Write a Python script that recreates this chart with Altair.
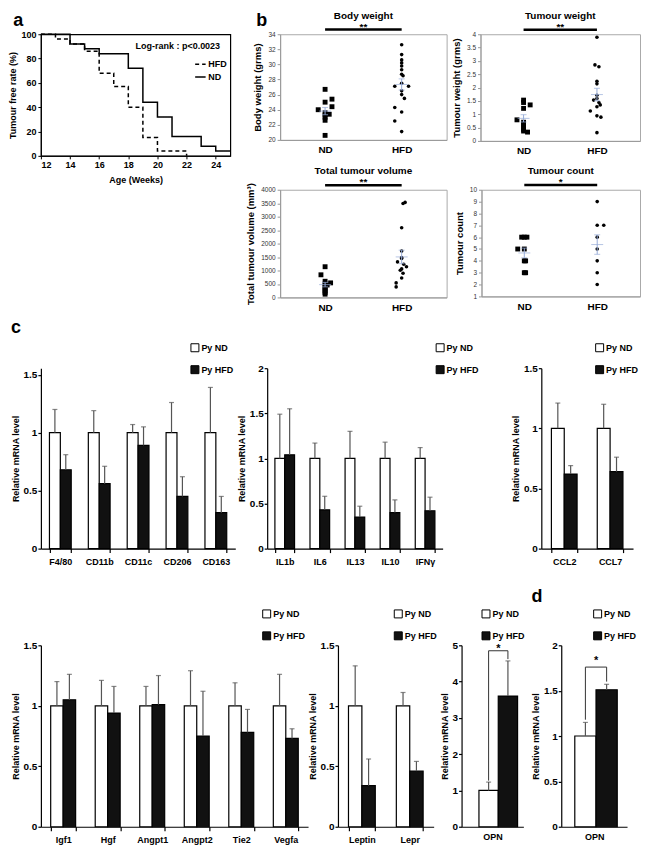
import altair as alt
import pandas as pd

FONT = "Liberation Sans"
BLUE = "#97acd8"
ERR = "#555555"
GROUPS = ["Py ND", "Py HFD"]

# ---------------- panel a : tumour-free survival ----------------
km_nd_week = [12, 14, 15, 16, 18, 19, 20, 21, 23, 24, 25]
km_nd_rate = [100, 92, 88, 84, 72, 44, 32, 16, 8, 4, 4]
km_hfd_week = [12, 13, 14, 15, 16, 17, 18, 19, 20, 22]
km_hfd_rate = [100, 96, 92, 86, 68, 57, 40, 15, 4, 0]
logrank_label = ["Log-rank : p<0.0023"]

# ---------------- panel b : dot plots (side: column the dot sits in) ----------------
bw_nd = [26.7, 25.4, 25.0, 24.4, 24.0, 23.6, 23.4, 23.3, 23.0, 22.6, 20.6]
bw_nd_side = [0, 1, 0, 1, -1, 0, 0.6, 0, 0, 0, 0]
bw_hfd = [32.6, 31.3, 30.6, 30.2, 29.8, 29.3, 28.7, 28.5, 27.5, 27.1, 27.1,
          26.5, 26.0, 25.5, 24.3, 23.7, 22.5, 21.1]
bw_hfd_side = [0, 0, 0, 0, 0, 0, 0, 0.2, 0, -1, 1, 0, 0, 0.4, -1, 0, -1, 0]

tw_nd = [1.53, 1.44, 1.35, 1.22, 0.79, 0.70, 0.61, 0.53, 0.43, 0.37, 0.33]
tw_nd_side = [0, 0, 1, 0, -1, 0, 0, 0, 0, 0, 0.6]
tw_hfd = [3.89, 2.85, 2.78, 2.24, 2.14, 1.71, 1.59, 1.53, 1.44, 1.35, 1.28,
          1.12, 0.94, 0.89, 0.31]
tw_hfd_side = [0, -0.3, 0.3, 0, 0, 0, 0, -0.5, 0.3, 0.5, 0, -1, 0, 0.6, 0]

tv_nd = [1140, 840, 600, 540, 500, 460, 420, 360, 300, 240, 180, 120]
tv_nd_side = [0, -0.6, 0, 0.8, 0, 0.3, 0, 0, 0, 0, 0, 0]
tv_hfd = [3530, 3490, 2590, 1720, 1480, 1450, 1320, 1230, 1140, 1060, 1010,
          900, 720, 540, 390]
tv_hfd_side = [0.5, 0.2, 0, 0, 0, 0, -0.6, 0.3, 0.7, 0, -0.2, 0.2, 0, -0.8, -0.8]

tc_nd = [6, 6, 6, 5, 5, 4, 4, 3, 3]
tc_nd_side = [-0.4, 0, 0.4, -1, 0, 0, 0.2, 0, 0.2]
tc_hfd = [9, 7, 7, 6, 5, 4, 3, 2]
tc_hfd_side = [0, 0, 1, 0, 0, 0, 0, 0]

# ---------------- panel c / d : relative mRNA (mean, top of error bar) ----------------
mac_genes = ["F4/80", "CD11b", "CD11c", "CD206", "CD163"]
mac_nd = [1, 1, 1, 1, 1]
mac_nd_top = [1.20, 1.19, 1.07, 1.26, 1.39]
mac_hfd = [0.68, 0.56, 0.89, 0.45, 0.31]
mac_hfd_top = [0.81, 0.71, 1.05, 0.62, 0.45]

cyt_genes = ["IL1b", "IL6", "IL13", "IL10", "IFNγ"]
cyt_nd = [1, 1, 1, 1, 1]
cyt_nd_top = [1.49, 1.17, 1.30, 1.18, 1.12]
cyt_hfd = [1.04, 0.43, 0.35, 0.40, 0.42]
cyt_hfd_top = [1.55, 0.58, 0.47, 0.54, 0.57]

chem_genes = ["CCL2", "CCL7"]
chem_nd = [1, 1]
chem_nd_top = [1.21, 1.20]
chem_hfd = [0.62, 0.64]
chem_hfd_top = [0.69, 0.76]

ang_genes = ["Igf1", "Hgf", "Angpt1", "Angpt2", "Tie2", "Vegfa"]
ang_nd = [1, 1, 1, 1, 1, 1]
ang_nd_top = [1.20, 1.21, 1.16, 1.29, 1.19, 1.26]
ang_hfd = [1.05, 0.94, 1.01, 0.75, 0.78, 0.73]
ang_hfd_top = [1.26, 1.16, 1.25, 1.12, 0.97, 0.81]

adi_genes = ["Leptin", "Lepr"]
adi_nd = [1, 1]
adi_nd_top = [1.33, 1.11]
adi_hfd = [0.34, 0.46]
adi_hfd_top = [0.56, 0.54]

opn_c = [1.0, 3.6]
opn_c_top = [1.23, 4.57]
opn_d = [1.0, 1.51]
opn_d_top = [1.15, 1.57]


def txt(**kw):
    base = dict(font=FONT, fontWeight="bold", color="black")
    base.update(kw)
    return base


# ======================= panel a =======================
def axis_a(values, title, pad):
    return alt.Axis(values=values, tickCount=len(values), title=title, grid=False,
                    domainColor="black", tickColor="black", tickSize=3, labelFont=FONT,
                    labelFontSize=9, labelFontWeight="bold", labelColor="black",
                    labelPadding=2, labelOverlap=False, titleFont=FONT, titleFontSize=9,
                    titleFontWeight="bold", titleColor="black", titlePadding=pad)


km_df = pd.DataFrame({
    "week": km_hfd_week + km_nd_week,
    "rate": km_hfd_rate + km_nd_rate,
    "diet": ["HFD"] * len(km_hfd_week) + ["ND"] * len(km_nd_week),
})
km_lines = alt.Chart(km_df).mark_line(interpolate="step-after", color="black",
                                       strokeWidth=1.5).encode(
    x=alt.X("week:Q", scale=alt.Scale(domain=[12, 25], nice=False, zero=False),
            axis=axis_a([12, 14, 16, 18, 20, 22, 24], "Age (Weeks)", 6)),
    y=alt.Y("rate:Q", scale=alt.Scale(domain=[0, 100], nice=False),
            axis=axis_a([0, 20, 40, 60, 80, 100], "Tumour free rate (%)", 3)),
    strokeDash=alt.StrokeDash(
        "diet:N", scale=alt.Scale(domain=["HFD", "ND"], range=[[4, 3], [1, 0]]),
        legend=alt.Legend(title=None, orient="none", legendX=154, legendY=24,
                          symbolType="stroke", symbolSize=110, symbolStrokeWidth=1.5,
                          symbolStrokeColor="black", labelFont=FONT, labelFontSize=9,
                          labelFontWeight="bold", labelColor="black", rowPadding=2,
                          labelOffset=2, padding=0)),
)
lr_df = pd.DataFrame({"week": [24.3], "rate": [90], "t": logrank_label})
lr_text = alt.Chart(lr_df).mark_text(align="right", baseline="middle",
                                      **txt(fontSize=9)).encode(
    x=alt.X("week:Q", title="Age (Weeks)"), y=alt.Y("rate:Q", title="Tumour free rate (%)"),
    text="t:N")
a_df = pd.DataFrame({"week": [10.1], "rate": [106.6], "t": ["a"]})
a_letter = alt.Chart(a_df).mark_text(align="left", baseline="alphabetic",
                                      **txt(fontSize=18)).encode(
    x=alt.X("week:Q", title="Age (Weeks)"), y=alt.Y("rate:Q", title="Tumour free rate (%)"),
    text="t:N")
panel_a = alt.layer(km_lines, lr_text, a_letter).properties(
    width=190, height=122,
    view=alt.ViewBackground(stroke="black", strokeWidth=1.2),
)


# ======================= panel b =======================
def dot_panel(title, ytitle, nd, nd_side, hfd, hfd_side, ydom, yvals, yfmt, sig_y, stars,
              w, h, letter=None):
    df = pd.DataFrame({"g": ["ND"] * len(nd) + ["HFD"] * len(hfd),
                       "v": nd + hfd, "s": nd_side + hfd_side})
    xsc = alt.Scale(domain=[-0.587, 1.587], nice=False, zero=False)
    ysc = alt.Scale(domain=ydom, nice=False, zero=False)
    xax = alt.Axis(values=[0, 1], tickCount=2, labelExpr="datum.value == 0 ? 'ND' : 'HFD'",
                   title=None, ticks=False, grid=False, domainColor="#999",
                   labelFont=FONT, labelFontSize=10, labelFontWeight="bold",
                   labelColor="black", labelPadding=5, labelOverlap=False)
    yax = alt.Axis(values=yvals, tickCount=len(yvals), format=yfmt, title=ytitle,
                   grid=False, domainColor="#999", tickColor="#999", tickSize=3,
                   labelFont=FONT, labelFontSize=6.5, labelColor="#333", labelPadding=2,
                   labelOverlap=False, titleFont=FONT, titleFontSize=9.5,
                   titleFontWeight="bold", titleColor="black", titlePadding=5)
    base = alt.Chart(df).transform_calculate(
        xp="(datum.g == 'ND' ? 0 : 1) + datum.s * 0.09")
    nd_pts = base.transform_filter("datum.g == 'ND'").mark_square(
        size=24, color="black", opacity=1).encode(
        x=alt.X("xp:Q", scale=xsc, axis=xax), y=alt.Y("v:Q", scale=ysc, axis=yax))
    hfd_pts = base.transform_filter("datum.g == 'HFD'").mark_circle(
        size=13, color="black", opacity=1).encode(
        x=alt.X("xp:Q", title=None), y=alt.Y("v:Q", title=ytitle))
    stats = alt.Chart(df).transform_aggregate(
        m="mean(v)", se="stderr(v)", groupby=["g"]).transform_calculate(
        xp="datum.g == 'ND' ? 0 : 1", lo="datum.m - datum.se", hi="datum.m + datum.se")
    err = stats.mark_rule(color=BLUE, strokeWidth=1).encode(
        x=alt.X("xp:Q", title=None), y=alt.Y("lo:Q", title=ytitle), y2="hi:Q")
    cap_lo = stats.mark_tick(color=BLUE, orient="horizontal", size=6, thickness=1).encode(
        x=alt.X("xp:Q", title=None), y=alt.Y("lo:Q", title=ytitle))
    cap_hi = stats.mark_tick(color=BLUE, orient="horizontal", size=6, thickness=1).encode(
        x=alt.X("xp:Q", title=None), y=alt.Y("hi:Q", title=ytitle))
    mean_t = stats.mark_tick(color=BLUE, orient="horizontal", size=12, thickness=1).encode(
        x=alt.X("xp:Q", title=None), y=alt.Y("m:Q", title=ytitle))
    sig_df = pd.DataFrame({"x0": [0], "x1": [1], "xm": [0.5], "y": [sig_y], "t": [stars],
                           "title": [title]})
    sbar = alt.Chart(sig_df).mark_rule(color="black", strokeWidth=2.5).encode(
        x=alt.X("x0:Q", title=None), x2="x1:Q", y=alt.Y("y:Q", title=ytitle))
    stxt = alt.Chart(sig_df).mark_text(baseline="bottom", dy=2, **txt(fontSize=10)).encode(
        x=alt.X("xm:Q", title=None), y=alt.Y("y:Q", title=ytitle), text="t:N")
    ttxt = alt.Chart(sig_df).mark_text(baseline="alphabetic", dy=-11,
                                        **txt(fontSize=10)).encode(
        x=alt.X("xm:Q", title=None), y=alt.Y("y:Q", title=ytitle), text="title:N")
    layers = [nd_pts, hfd_pts, err, cap_lo, cap_hi, mean_t, sbar, stxt, ttxt]
    if letter is not None:
        l_df = pd.DataFrame({"x": [letter[1]], "y": [letter[2]], "t": [letter[0]]})
        layers.append(alt.Chart(l_df).mark_text(align="left", baseline="alphabetic",
                                                 **txt(fontSize=18)).encode(
            x=alt.X("x:Q", title=None), y=alt.Y("y:Q", title=ytitle), text="t:N"))
    return alt.layer(*layers).properties(
        width=w, height=h,
        view=alt.ViewBackground(stroke="#aaa", strokeWidth=1),
    )


b1 = dot_panel("Body weight", "Body weight (grms)", bw_nd, bw_nd_side, bw_hfd, bw_hfd_side,
               [20, 34], list(range(20, 35, 2)), "d", 34.62, "**", 167, 106,
               letter=("b", -0.9, 35.05))
b2 = dot_panel("Tumour weight", "Tumour weight (grms)", tw_nd, tw_nd_side, tw_hfd,
               tw_hfd_side, [0, 4], [0, 0.5, 1, 1.5, 2, 2.5, 3, 3.5, 4], "~g", 4.17, "**",
               160, 107)
b3 = dot_panel("Total tumour volume", "Total tumour volume (mm³)", tv_nd, tv_nd_side,
               tv_hfd, tv_hfd_side, [0, 4000], list(range(0, 4001, 500)), "d", 4170, "**",
               167, 108)
b4 = dot_panel("Tumour count", "Tumour count", tc_nd, tc_nd_side, tc_hfd, tc_hfd_side,
               [1, 10], list(range(1, 11)), "d", 10.4, "*", 159, 107)


# ======================= panel c / d =======================
def fill_legend(lx, ly):
    return alt.Legend(title=None, orient="none", legendX=lx, legendY=ly,
                      symbolType="square", symbolSize=64, symbolStrokeColor="black",
                      symbolStrokeWidth=1, labelFont=FONT, labelFontSize=9,
                      labelFontWeight="bold", labelColor="black", labelOffset=2,
                      rowPadding=9, padding=0)


def y_axis_bar(values):
    return alt.Axis(values=values, tickCount=len(values), format="~g",
                    title="Relative mRNA level", grid=False,
                    domainColor="black", domainWidth=1.2, tickColor="black", tickSize=3,
                    tickWidth=1.2, labelFont=FONT, labelFontSize=10, labelFontWeight="bold",
                    labelColor="black", labelPadding=1, labelOverlap=False,
                    titleFont=FONT, titleFontSize=9, titleFontWeight="bold",
                    titleColor="black", titlePadding=3)


FILL = alt.Scale(domain=GROUPS, range=["white", "#111111"])


def bar_panel(genes, nd_m, nd_u, hfd_m, hfd_u, ymax, yvals, w, h, lx, ly, title=None):
    rows = []
    for i, gname in enumerate(genes):
        rows.append({"gene": gname, "grp": GROUPS[0], "m": nd_m[i], "u": nd_u[i]})
        rows.append({"gene": gname, "grp": GROUPS[1], "m": hfd_m[i], "u": hfd_u[i]})
    df = pd.DataFrame(rows)
    xsc = alt.Scale(domain=genes, paddingInner=0.44, paddingOuter=0.22)
    xax = alt.Axis(title=None, labelAngle=0, tickBand="extent", domainColor="black",
                   domainWidth=1.2, tickColor="black", tickSize=4, tickWidth=1.2,
                   labelFont=FONT, labelFontSize=9, labelFontWeight="bold",
                   labelColor="black", labelPadding=5, labelOverlap=False, grid=False)
    xo = alt.XOffset("grp:N", scale=alt.Scale(domain=GROUPS, paddingInner=0, paddingOuter=0))
    ysc = alt.Scale(domain=[0, ymax], nice=False)
    bars = alt.Chart(df).mark_bar(stroke="black", strokeWidth=1.2).encode(
        x=alt.X("gene:N", scale=xsc, axis=xax), xOffset=xo,
        y=alt.Y("m:Q", scale=ysc, axis=y_axis_bar(yvals)),
        fill=alt.Fill("grp:N", scale=FILL, legend=fill_legend(lx, ly)))
    errs = alt.Chart(df).mark_rule(color=ERR, strokeWidth=1.2).encode(
        x="gene:N", xOffset="grp:N", y=alt.Y("m:Q", title="Relative mRNA level"), y2="u:Q")
    caps = alt.Chart(df).mark_tick(color=ERR, thickness=1.2, size=5,
                                    orient="horizontal").encode(
        x="gene:N", xOffset="grp:N", y=alt.Y("u:Q", title="Relative mRNA level"))
    props = dict(width=w, height=h)
    if title is not None:
        props["title"] = title
    return alt.layer(bars, errs, caps).properties(**props)


def opn_panel(vals, tops, ymax, yvals, w, h, lx, ly, po, align, br_y, br_lo, star_y,
              star_base, title):
    df = pd.DataFrame({"grp": GROUPS, "m": vals, "u": tops})
    xsc = alt.Scale(domain=GROUPS, paddingInner=0, paddingOuter=po, align=align)
    xax = alt.Axis(labels=False, ticks=False, title="OPN", titleFont=FONT, titleFontSize=9,
                   titleFontWeight="bold", titleColor="black", titlePadding=6,
                   domainColor="black", domainWidth=1.2, grid=False)
    ysc = alt.Scale(domain=[0, ymax], nice=False)
    bars = alt.Chart(df).mark_bar(stroke="black", strokeWidth=1.2).encode(
        x=alt.X("grp:N", scale=xsc, axis=xax),
        y=alt.Y("m:Q", scale=ysc, axis=y_axis_bar(yvals)),
        fill=alt.Fill("grp:N", scale=FILL, legend=fill_legend(lx, ly)))
    errs = alt.Chart(df).mark_rule(color=ERR, strokeWidth=1.2).encode(
        x=alt.X("grp:N", title="OPN"), y=alt.Y("m:Q", title="Relative mRNA level"), y2="u:Q")
    caps = alt.Chart(df).mark_tick(color=ERR, thickness=1.2, size=5,
                                    orient="horizontal").encode(
        x=alt.X("grp:N", title="OPN"), y=alt.Y("u:Q", title="Relative mRNA level"))
    br_df = pd.DataFrame({"grp": [GROUPS[0], GROUPS[0], GROUPS[1], GROUPS[1]],
                          "y": [br_lo[0], br_y, br_y, br_lo[1]], "o": [0, 1, 2, 3]})
    bracket = alt.Chart(br_df).mark_line(color="#333", strokeWidth=1).encode(
        x=alt.X("grp:N", title="OPN"), y=alt.Y("y:Q", title="Relative mRNA level"),
        order="o:Q")
    st_df = pd.DataFrame({"grp": [GROUPS[1]], "y": [star_y], "t": ["*"]})
    star = alt.Chart(st_df).mark_text(baseline=star_base, **txt(fontSize=11)).encode(
        x=alt.X("grp:N", bandPosition=0, title="OPN"),
        y=alt.Y("y:Q", title="Relative mRNA level"), text="t:N")
    return alt.layer(bars, errs, caps, bracket, star).properties(width=w, height=h, title=title)


SPACER = alt.Title(" ", fontSize=18, font=FONT, fontWeight="bold", offset=3)

c1 = bar_panel(mac_genes, mac_nd, mac_nd_top, mac_hfd, mac_hfd_top, 1.556,
               [0, 0.5, 1, 1.5], 195, 181, 150, -25)
c2 = bar_panel(cyt_genes, cyt_nd, cyt_nd_top, cyt_hfd, cyt_hfd_top, 2,
               [0, 0.5, 1, 1.5, 2], 176, 181, 169, -25)
c3 = bar_panel(chem_genes, chem_nd, chem_nd_top, chem_hfd, chem_hfd_top, 1.5,
               [0, 0.5, 1, 1.5], 92, 181, 54, -25)
c4 = bar_panel(ang_genes, ang_nd, ang_nd_top, ang_hfd, ang_hfd_top, 1.5,
               [0, 0.5, 1, 1.5], 268, 182, 222, -36, title=SPACER)
c5 = bar_panel(adi_genes, adi_nd, adi_nd_top, adi_hfd, adi_hfd_top, 1.5,
               [0, 0.5, 1, 1.5], 96, 182, 56, -36, title=SPACER)
c6 = opn_panel(opn_c, opn_c_top, 5, [0, 1, 2, 3, 4, 5], 62, 182, 20, -36, 0.6, 0.75,
               4.85, (1.27, 4.62), 5.06, "top", SPACER)
d1 = opn_panel(opn_d, opn_d_top, 2, [0, 0.5, 1, 1.5, 2], 66, 182, 32, -36, 0.55, 0.58,
               1.76, (1.18, 1.6), 1.77, "bottom",
               alt.Title("d", anchor="start", frame="bounds", fontSize=18, font=FONT,
                         fontWeight="bold", offset=3))


def indep(ch):
    return ch.resolve_scale(x="independent", y="independent", fill="independent",
                            xOffset="independent").resolve_legend(fill="independent")


b_top = indep(alt.hconcat(b1, b2, spacing=3))
b_bot = indep(alt.hconcat(b3, b4, spacing=6))
b_block = indep(alt.vconcat(b_top, b_bot, spacing=8))
row1 = indep(alt.hconcat(panel_a, b_block, spacing=11))

row2 = indep(alt.hconcat(indep(alt.hconcat(c1, c2, spacing=2)), c3, spacing=32,
                         title=alt.Title("c", anchor="start", fontSize=18, font=FONT,
                                         fontWeight="bold", offset=6)))
row3 = indep(alt.hconcat(
    indep(alt.hconcat(indep(alt.hconcat(c4, c5, spacing=0)), c6, spacing=2)),
    d1, spacing=6))

top_two = indep(alt.vconcat(row1, row2, spacing=6))
chart = indep(alt.vconcat(top_two, row3, spacing=22)).properties(padding=0).configure(
    font=FONT).configure_view(stroke=None)

chart.save("out.html", embed_options={"renderer": "svg", "actions": False})
